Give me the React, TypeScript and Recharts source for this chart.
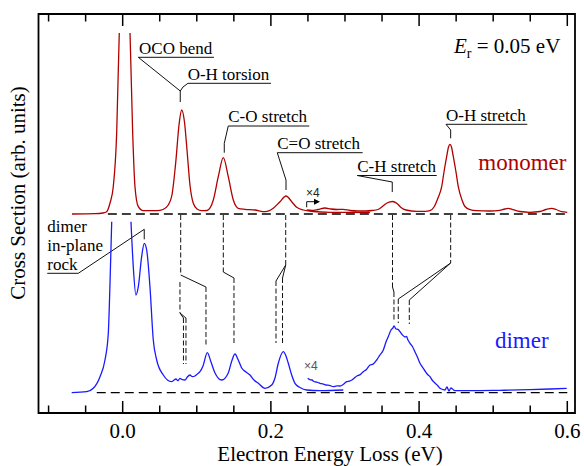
import React from 'react';
import { LineChart, Line, XAxis, YAxis, ReferenceLine, ReferenceArea, ReferenceDot } from 'recharts';

const SERIF = '"Liberation Serif", "Times New Roman", serif';
const SANS = '"Liberation Sans", Arial, sans-serif';
const MONO_COLOR = '#b00000';
const DIMER_COLOR = '#1a1aff';

const X_MIN = -0.1136;
const X_MAX = 0.6104;
const Y_MIN = 0;
const Y_MAX = 39.9;
const MONO_OFFSET = 19.9;
const DIMER_OFFSET = 2.03;

const MAJOR_TICKS = [0, 0.2, 0.4, 0.6];
const MINOR_TICKS = [-0.1, -0.05, 0.05, 0.1, 0.15, 0.25, 0.3, 0.35, 0.45, 0.5, 0.55];

// monomer, x1 scale
const monoX1 = [-0.0684, -0.0374, -0.0266, -0.0216, -0.0171, -0.0127, -0.0081, -0.0046, 0.0026, 0.0099, 0.0135, 0.0166, 0.0211, 0.0278, 0.0368, 0.0463, 0.0544, 0.0615, 0.0665, 0.0719, 0.076, 0.0796, 0.0834, 0.0868, 0.0908, 0.0953, 0.1003, 0.1066, 0.1138, 0.1223, 0.129, 0.1358, 0.1425, 0.1493, 0.156, 0.165, 0.1785, 0.192, 0.2032, 0.2123, 0.2204, 0.2281, 0.2348, 0.2437, 0.2572, 0.2798, 0.3337];
const monoY1 = [0, 0.03, 0.1, 0.23, 1.1, 2.73, 8.1, 18.1, null, 18.1, 8.1, 2.73, 0.73, 0.33, 0.33, 0.33, 0.45, 0.9, 1.9, 5.4, 8.9, 10.4, 9.2, 6.4, 2.9, 1.07, 0.5, 0.33, 0.35, 1.4, 3.73, 5.63, 3.73, 1.4, 0.57, 0.47, 0.4, 0.23, 0.57, 1.23, 1.8, 1.23, 0.67, 0.4, 0.25, 0.17, 0.15];

// monomer, x4 scale
const monoX4 = [0.2483, 0.2555, 0.2636, 0.273, 0.2811, 0.2893, 0.2977, 0.3067, 0.3176, 0.3283, 0.3364, 0.3445, 0.3513, 0.3567, 0.3644, 0.3702, 0.3756, 0.3823, 0.3968, 0.408, 0.4147, 0.4201, 0.4255, 0.4305, 0.4336, 0.4372, 0.4397, 0.4417, 0.4437, 0.4462, 0.4498, 0.4529, 0.4579, 0.4619, 0.4687, 0.4777, 0.4953, 0.5088, 0.5155, 0.5204, 0.5254, 0.5362, 0.5497, 0.5632, 0.5713, 0.579, 0.5848, 0.5924, 0.6];
const monoY4 = [0.4, 0.35, 0.45, 0.6, 0.5, 0.45, 0.47, 0.35, 0.3, 0.3, 0.35, 0.45, 0.8, 1.1, 1.25, 1.05, 0.65, 0.4, 0.27, 0.27, 0.33, 0.7, 1.6, 2.73, 4.2, 5.73, 6.7, 6.97, 6.7, 5.73, 4.2, 2.73, 1.4, 0.75, 0.43, 0.33, 0.3, 0.37, 0.5, 0.57, 0.47, 0.25, 0.17, 0.25, 0.45, 0.57, 0.45, 0.23, 0.17];

// dimer, x1 scale
const dimerX1 = [-0.0688, -0.0486, -0.0397, -0.0306, -0.0239, -0.0194, -0.0171, -0.0148, 0, 0.0112, 0.0143, 0.0179, 0.0211, 0.0256, 0.0291, 0.0324, 0.0368, 0.0413, 0.0459, 0.0548, 0.0661, 0.069, 0.0719, 0.0745, 0.0773, 0.0805, 0.0841, 0.087, 0.0908, 0.094, 0.0976, 0.1005, 0.1043, 0.1084, 0.1142, 0.1192, 0.1246, 0.1336, 0.1425, 0.1468, 0.1515, 0.156, 0.1606, 0.1664, 0.1718, 0.1772, 0.183, 0.192, 0.2011, 0.2055, 0.21, 0.2167, 0.2204, 0.2235, 0.2285, 0.2325, 0.2393, 0.2483, 0.2663, 0.2977];
const dimerY1 = [0, 0.1, 0.44, 1.6, 3.27, 5.94, 10.94, 17.1, null, 17.1, 12.6, 9.77, 10.6, 13.6, 14.94, 14.27, 10.6, 5.27, 3.27, 1.77, 1.1, 1.25, 1.37, 1.2, 1.44, 1.3, 1.27, 1.55, 1.77, 1.6, 1.67, 1.85, 2.1, 2.67, 4.0, 3.07, 1.97, 1.27, 1.97, 3.07, 3.87, 3.27, 2.47, 2.07, 1.77, 1.27, 0.94, 0.44, 0.77, 1.47, 2.94, 4.1, 3.67, 2.94, 1.67, 0.94, 0.52, 0.27, 0.2, 0.27];

// dimer, x4 scale (noisy trace)
const dimerX4 = [0.2497, 0.2525, 0.2555, 0.258, 0.2609, 0.2635, 0.2663, 0.27, 0.2744, 0.279, 0.2842, 0.289, 0.2933, 0.298, 0.3023, 0.306, 0.3094, 0.313, 0.3162, 0.32, 0.3247, 0.329, 0.3337, 0.338, 0.3428, 0.347, 0.3517, 0.3553, 0.3584, 0.3621, 0.3645, 0.3661, 0.3688, 0.3715, 0.3742, 0.3775, 0.381, 0.383, 0.385, 0.3877, 0.391, 0.3945, 0.398, 0.4012, 0.4045, 0.408, 0.4115, 0.4147, 0.418, 0.4214, 0.425, 0.4282, 0.4349, 0.4376, 0.4403, 0.443, 0.4484, 0.4686, 0.5091, 0.5496, 0.5766, 0.5992];
const dimerY4 = [1.44, 1.3, 1.27, 1.12, 1.07, 1.02, 0.94, 0.88, 0.77, 0.74, 0.6, 0.68, 0.67, 0.85, 1.1, 1.16, 1.27, 1.5, 1.67, 1.78, 2.1, 2.32, 2.77, 2.86, 3.27, 3.75, 4.27, 5.07, 5.6, 6.27, 6.45, 6.67, 6.37, 6.33, 6.1, 5.78, 5.57, 5.62, 5.27, 4.94, 4.62, 4.07, 3.52, 2.94, 2.55, 2.17, 1.82, 1.6, 1.22, 0.97, 0.72, 0.44, 0.27, 0.57, 0.17, 0.47, 0.2, 0.2, 0.24, 0.3, 0.37, 0.44];

// annotation leader lines [x1, y1, x2, y2, dashed]
const leaderSegments: [number, number, number, number, boolean][] = [
  [0.0211, 35.57, 0.1232, 35.57, false],
  [0.0211, 35.57, 0.0777, 32.2, false],
  [0.0881, 32.97, 0.2001, 32.97, false],
  [0.0777, 32.2, 0.0814, 32.6, false],
  [0.0814, 32.6, 0.0881, 32.97, false],
  [0.0777, 32.2, 0.0777, 31.1, false],
  [0.1425, 28.7, 0.2518, 28.7, false],
  [0.1425, 28.7, 0.1371, 26.97, false],
  [0.1371, 26.97, 0.1371, 26.03, false],
  [0.2086, 26.03, 0.3239, 26.03, false],
  [0.2086, 26.03, 0.2204, 23.3, false],
  [0.2204, 23.3, 0.2204, 22.3, false],
  [0.3166, 23.75, 0.4238, 23.75, false],
  [0.3166, 23.75, 0.3638, 23.1, false],
  [0.3638, 23.1, 0.3638, 22.1, false],
  [0.4363, 28.87, 0.546, 28.87, false],
  [0.4363, 28.87, 0.4426, 28.3, false],
  [0.4426, 28.3, 0.4426, 27.47, false],
  [-0.1018, 13.97, -0.0599, 13.97, false],
  [-0.0599, 13.97, 0.0291, 18.37, false],
  [0.0291, 18.37, 0.0291, 17.37, false],
  [0.0783, 19.8, 0.0783, 13.8, true],
  [0.0783, 13.8, 0.1124, 12.6, false],
  [0.1124, 12.6, 0.1124, 6.8, true],
  [0.0773, 13.1, 0.0773, 10.0, true],
  [0.0773, 10.0, 0.082, 9.5, false],
  [0.0773, 10.0, 0.0854, 9.5, false],
  [0.082, 9.5, 0.082, 4.9, true],
  [0.0854, 9.5, 0.0854, 4.9, true],
  [0.1358, 19.8, 0.1358, 14.1, true],
  [0.1358, 14.1, 0.1502, 13.5, false],
  [0.1502, 13.5, 0.1502, 6.8, true],
  [0.22, 19.8, 0.22, 14.8, true],
  [0.22, 14.8, 0.2069, 13.2, false],
  [0.22, 14.8, 0.2157, 13.5, false],
  [0.2069, 13.2, 0.2069, 7.0, true],
  [0.2157, 13.5, 0.2157, 7.0, true],
  [0.3641, 19.8, 0.3641, 12.6, true],
  [0.3641, 12.6, 0.3661, 12.1, false],
  [0.3661, 12.1, 0.3661, 9.1, true],
  [0.4426, 19.8, 0.4426, 15.0, true],
  [0.4426, 15.0, 0.3719, 11.4, false],
  [0.4426, 15.0, 0.3868, 11.3, false],
  [0.3719, 11.4, 0.3719, 9.0, true],
  [0.3868, 11.3, 0.3868, 8.9, true],
  [0.2483, 20.57, 0.2483, 21.13, false],
  [0.2483, 21.13, 0.2623, 21.13, false],
];

const peakLabels = [
  { x: 0.0221, y: 35.9, text: 'OCO bend' },
  { x: 0.0877, y: 33.3, text: 'O-H torsion' },
  { x: 0.1425, y: 29.1, text: 'C-O stretch' },
  { x: 0.2086, y: 26.4, text: 'C=O stretch' },
  { x: 0.3166, y: 24.1, text: 'C-H stretch' },
  { x: 0.4363, y: 29.2, text: 'O-H stretch' },
  { x: -0.1018, y: 18.13, text: 'dimer' },
  { x: -0.1018, y: 16.23, text: 'in-plane' },
  { x: -0.1018, y: 14.3, text: 'rock' },
];

const zip = (xs: number[], ys: (number | null)[], off: number) =>
  xs.map((x, i) => ({ x, y: ys[i] == null ? null : (ys[i] as number) + off }));

const monoData1 = zip(monoX1, monoY1, MONO_OFFSET);
const monoData4 = zip(monoX4, monoY4, MONO_OFFSET);
const dimerData1 = zip(dimerX1, dimerY1, DIMER_OFFSET);
const dimerData4 = zip(dimerX4, dimerY4, DIMER_OFFSET);

const textShape = (content: React.ReactNode, style: any) => (p: any) => (
  <text x={p.cx} y={p.cy} {...style}>{content}</text>
);

export default function App() {
  return (
    <div style={{ position: 'absolute', left: 0, top: 0, width: 584, height: 466, background: '#fff' }}>
      <LineChart width={584} height={466} margin={{ top: 14, right: 9, bottom: 23, left: 38.5 }}>
        <XAxis
          type="number"
          dataKey="x"
          domain={[X_MIN, X_MAX]}
          allowDataOverflow
          ticks={MAJOR_TICKS}
          interval={0}
          tickFormatter={(v: number) => v.toFixed(1)}
          axisLine={false}
          tickLine={false}
          tickSize={10}
          tickMargin={0}
          height={30}
          tick={{ fontFamily: SERIF, fontSize: 21, fill: '#000' }}
        />
        <YAxis type="number" domain={[Y_MIN, Y_MAX]} allowDataOverflow hide />

        <ReferenceLine segment={[{ x: -0.02, y: MONO_OFFSET }, { x: 0.6, y: MONO_OFFSET }]} stroke="#000" strokeWidth={1.3} strokeDasharray="9 5" />
        <ReferenceLine segment={[{ x: -0.035, y: DIMER_OFFSET }, { x: 0.6, y: DIMER_OFFSET }]} stroke="#000" strokeWidth={1.3} strokeDasharray="9 5" />

        {leaderSegments.map((s, i) => (
          <ReferenceLine
            key={'seg' + i}
            segment={[{ x: s[0], y: s[1] }, { x: s[2], y: s[3] }]}
            stroke="#111"
            strokeWidth={1}
            strokeDasharray={s[4] ? '5 2.5' : undefined}
            ifOverflow="visible"
          />
        ))}

        {MAJOR_TICKS.map((t) => (
          <ReferenceLine key={'mb' + t} segment={[{ x: t, y: Y_MIN }, { x: t, y: Y_MIN + 1.2 }]} stroke="#000" strokeWidth={1.5} />
        ))}
        {MINOR_TICKS.map((t) => (
          <ReferenceLine key={'nb' + t} segment={[{ x: t, y: Y_MIN }, { x: t, y: Y_MIN + 0.75 }]} stroke="#000" strokeWidth={1.5} />
        ))}
        {MAJOR_TICKS.map((t) => (
          <ReferenceLine key={'mt' + t} segment={[{ x: t, y: Y_MAX }, { x: t, y: Y_MAX - 1.2 }]} stroke="#000" strokeWidth={1.5} />
        ))}
        {MINOR_TICKS.map((t) => (
          <ReferenceLine key={'nt' + t} segment={[{ x: t, y: Y_MAX }, { x: t, y: Y_MAX - 0.75 }]} stroke="#000" strokeWidth={1.5} />
        ))}

        <Line data={monoData1} dataKey="y" type="monotone" stroke={MONO_COLOR} strokeWidth={1.3} dot={false} isAnimationActive={false} />
        <Line data={monoData4} dataKey="y" type="monotone" stroke={MONO_COLOR} strokeWidth={1.3} dot={false} isAnimationActive={false} />
        <Line data={dimerData1} dataKey="y" type="monotone" stroke={DIMER_COLOR} strokeWidth={1.3} dot={false} isAnimationActive={false} />
        <Line data={dimerData4} dataKey="y" type="monotone" stroke={DIMER_COLOR} strokeWidth={1.3} dot={false} isAnimationActive={false} />

        <ReferenceArea x1={X_MIN} x2={X_MAX} y1={Y_MIN} y2={Y_MAX} fill="none" stroke="#000" strokeWidth={1.8} ifOverflow="visible" />

        {peakLabels.map((l, i) => (
          <ReferenceDot key={'lab' + i} x={l.x} y={l.y} r={1} ifOverflow="visible"
            shape={textShape(l.text, { fontFamily: SERIF, fontSize: 17, fill: '#000' })} />
        ))}

        <ReferenceDot x={0.2663} y={21.13} r={1} ifOverflow="visible"
          shape={(p: any) => (
            <polygon points={`${p.cx},${p.cy} ${p.cx - 6},${p.cy - 3} ${p.cx - 6},${p.cy + 3}`} fill="#000" />
          )} />
        <ReferenceDot x={0.2474} y={21.63} r={1} ifOverflow="visible"
          shape={textShape('×4', { fontFamily: SANS, fontSize: 12, fill: '#222' })} />
        <ReferenceDot x={0.2447} y={4.3} r={1} ifOverflow="visible"
          shape={textShape('×4', { fontFamily: SANS, fontSize: 12, fill: '#555' })} />

        <ReferenceDot x={0.4799} y={24.3} r={1} ifOverflow="visible"
          shape={textShape('monomer', { fontFamily: SERIF, fontSize: 23, fill: MONO_COLOR })} />
        <ReferenceDot x={0.5024} y={6.53} r={1} ifOverflow="visible"
          shape={textShape('dimer', { fontFamily: SERIF, fontSize: 23, fill: DIMER_COLOR })} />

        <ReferenceDot x={0.4471} y={35.97} r={1} ifOverflow="visible"
          shape={textShape(
            <>
              <tspan fontStyle="italic">E</tspan>
              <tspan fontSize={14} dy={5}>r</tspan>
              <tspan dy={-5}> = 0.05 eV</tspan>
            </>,
            { fontFamily: SERIF, fontSize: 21, fill: '#000' }
          )} />

        <ReferenceDot x={0.2798} y={-4.8} r={1} ifOverflow="visible"
          shape={textShape('Electron Energy Loss (eV)', { fontFamily: SERIF, fontSize: 21, fill: '#000', textAnchor: 'middle' })} />
        <ReferenceDot x={-0.1318} y={22.0} r={1} ifOverflow="visible"
          shape={(p: any) => (
            <text x={p.cx} y={p.cy} transform={`rotate(-90 ${p.cx} ${p.cy})`} textAnchor="middle"
              fontFamily={SERIF} fontSize={21} fill="#000">Cross Section (arb. units)</text>
          )} />
      </LineChart>
    </div>
  );
}
